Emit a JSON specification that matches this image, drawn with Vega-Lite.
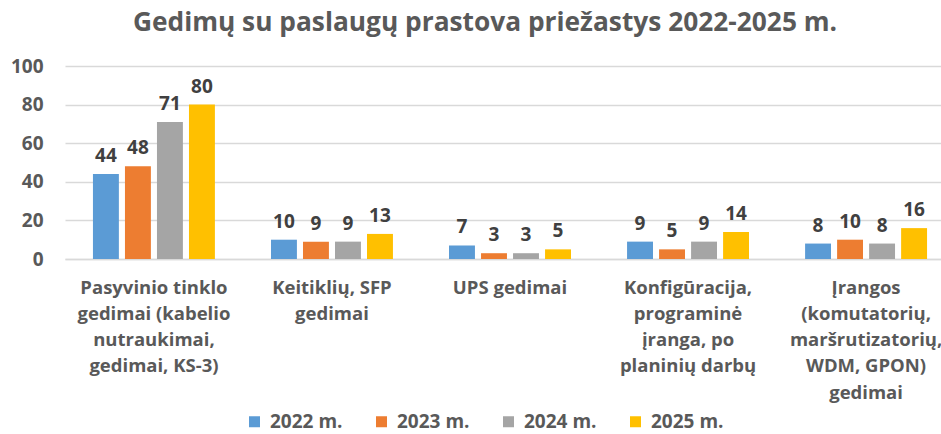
{
  "$schema": "https://vega.github.io/schema/vega-lite/v6.json",
  "width": 890,
  "height": 193,
  "autosize": "none",
  "padding": {"left": 65, "right": 0, "top": 66, "bottom": 175},
  "background": "white",
  "title": {
    "text": "Gedimų su paslaugų prastova priežastys 2022-2025 m.",
    "font": "Open Sans",
    "fontSize": 26.3,
    "fontWeight": "bold",
    "color": "#595959",
    "offset": 21,
    "dx": -25
  },
  "config": {
    "view": {"stroke": null},
    "font": "Open Sans"
  },
  "data": {
    "values": [
      {"cat": "Pasyvinio tinklo|gedimai (kabelio|nutraukimai,|gedimai, KS-3)", "ord": 1, "year": "2022 m.", "v": 44},
      {"cat": "Pasyvinio tinklo|gedimai (kabelio|nutraukimai,|gedimai, KS-3)", "ord": 1, "year": "2023 m.", "v": 48},
      {"cat": "Pasyvinio tinklo|gedimai (kabelio|nutraukimai,|gedimai, KS-3)", "ord": 1, "year": "2024 m.", "v": 71},
      {"cat": "Pasyvinio tinklo|gedimai (kabelio|nutraukimai,|gedimai, KS-3)", "ord": 1, "year": "2025 m.", "v": 80},
      {"cat": "Keitiklių, SFP|gedimai", "ord": 2, "year": "2022 m.", "v": 10},
      {"cat": "Keitiklių, SFP|gedimai", "ord": 2, "year": "2023 m.", "v": 9},
      {"cat": "Keitiklių, SFP|gedimai", "ord": 2, "year": "2024 m.", "v": 9},
      {"cat": "Keitiklių, SFP|gedimai", "ord": 2, "year": "2025 m.", "v": 13},
      {"cat": "UPS gedimai", "ord": 3, "year": "2022 m.", "v": 7},
      {"cat": "UPS gedimai", "ord": 3, "year": "2023 m.", "v": 3},
      {"cat": "UPS gedimai", "ord": 3, "year": "2024 m.", "v": 3},
      {"cat": "UPS gedimai", "ord": 3, "year": "2025 m.", "v": 5},
      {"cat": "Konfigūracija,|programinė|įranga, po|planinių darbų", "ord": 4, "year": "2022 m.", "v": 9},
      {"cat": "Konfigūracija,|programinė|įranga, po|planinių darbų", "ord": 4, "year": "2023 m.", "v": 5},
      {"cat": "Konfigūracija,|programinė|įranga, po|planinių darbų", "ord": 4, "year": "2024 m.", "v": 9},
      {"cat": "Konfigūracija,|programinė|įranga, po|planinių darbų", "ord": 4, "year": "2025 m.", "v": 14},
      {"cat": "Įrangos|(komutatorių,|maršrutizatorių,|WDM, GPON)|gedimai", "ord": 5, "year": "2022 m.", "v": 8},
      {"cat": "Įrangos|(komutatorių,|maršrutizatorių,|WDM, GPON)|gedimai", "ord": 5, "year": "2023 m.", "v": 10},
      {"cat": "Įrangos|(komutatorių,|maršrutizatorių,|WDM, GPON)|gedimai", "ord": 5, "year": "2024 m.", "v": 8},
      {"cat": "Įrangos|(komutatorių,|maršrutizatorių,|WDM, GPON)|gedimai", "ord": 5, "year": "2025 m.", "v": 16}
    ]
  },
  "encoding": {
    "x": {
      "field": "cat",
      "type": "nominal",
      "sort": {"field": "ord"},
      "scale": {"paddingInner": 0.315, "paddingOuter": 0.157},
      "axis": {
        "title": null,
        "labelAngle": 0,
        "labelExpr": "split(datum.label, '|')",
        "labelFont": "Open Sans",
        "labelFontSize": 18.5,
        "labelFontWeight": "bold",
        "labelColor": "#595959",
        "labelLineHeight": 26.3,
        "labelPadding": 19,
        "labelLimit": 250,
        "ticks": false,
        "domainColor": "#d9d9d9",
        "domainWidth": 1.5
      }
    },
    "xOffset": {
      "field": "year",
      "type": "nominal",
      "scale": {"paddingInner": 0.19, "paddingOuter": 0}
    },
    "y": {
      "field": "v",
      "type": "quantitative",
      "scale": {"domain": [0, 100]},
      "axis": {
        "title": null,
        "values": [0, 20, 40, 60, 80, 100],
        "domain": false,
        "ticks": false,
        "gridColor": "#d9d9d9",
        "gridWidth": 1.5,
        "labelFont": "Open Sans",
        "labelFontSize": 19,
        "labelFontWeight": "bold",
        "labelColor": "#595959",
        "labelPadding": 22
      }
    }
  },
  "layer": [
    {
      "mark": {"type": "bar"},
      "encoding": {
        "color": {
          "field": "year",
          "type": "nominal",
          "scale": {
            "domain": ["2022 m.", "2023 m.", "2024 m.", "2025 m."],
            "range": ["#5B9BD5", "#ED7D31", "#A5A5A5", "#FFC000"]
          },
          "legend": {
            "title": null,
            "orient": "none",
            "legendX": 180,
            "legendY": 346,
            "direction": "horizontal",
            "symbolType": "square",
            "symbolSize": 121,
            "symbolStrokeWidth": 0,
            "labelFont": "Open Sans",
            "labelFontSize": 19,
            "labelFontWeight": "bold",
            "labelColor": "#595959",
            "labelOffset": 6,
            "columnPadding": 29
          }
        }
      }
    },
    {
      "mark": {
        "type": "text",
        "dy": -18,
        "font": "Open Sans",
        "fontSize": 19,
        "fontWeight": "bold",
        "color": "#404040"
      },
      "encoding": {
        "text": {"field": "v", "type": "quantitative"}
      }
    }
  ]
}
